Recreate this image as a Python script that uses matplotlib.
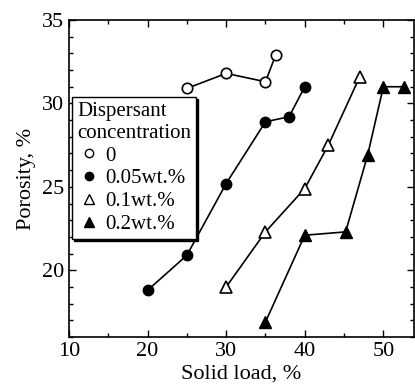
import matplotlib
matplotlib.use("Agg")
import matplotlib.pyplot as plt
from matplotlib.lines import Line2D
from matplotlib.ticker import MultipleLocator

plt.rcParams['font.family'] = ['Liberation Serif', 'DejaVu Serif']
plt.rcParams['mathtext.fontset'] = 'stix'

x0 = [25, 30, 35, 36.3]
y0 = [30.9, 31.8, 31.3, 32.9]
x005 = [20, 25, 30, 35, 38, 40]
y005 = [18.8, 20.9, 25.2, 28.9, 29.2, 31.0]
x01 = [30, 35, 40, 43, 47]
y01 = [19.0, 22.3, 24.9, 27.5, 31.6]
x02 = [35, 40, 45.2, 48, 50, 52.6]
y02 = [16.9, 22.1, 22.3, 26.9, 31.0, 31.0]
labels = ['0', '0.05wt.%', '0.1wt.%', '0.2wt.%']
legend_title = 'Dispersant\nconcentration'
xlabel = 'Solid load, %'
ylabel = 'Porosity, %'

fig = plt.figure(figsize=(4.15, 3.88), dpi=100)
ax = fig.add_axes([69/415, 1-337/388, 345/415, 317/388])

lw = 1.2
ms = 7.5
ax.plot(x0, y0, '-o', color='black', mfc='white', mec='black', mew=1.2, lw=lw, ms=ms)
ax.plot(x005, y005, '-o', color='black', mfc='black', lw=lw, ms=ms)
ax.plot(x01, y01, '-^', color='black', mfc='white', mec='black', mew=1.2, lw=lw, ms=ms+0.5)
ax.plot(x02, y02, '-^', color='black', mfc='black', lw=lw, ms=ms+0.5)

ax.set_xlim(10, 53.9)
ax.set_ylim(16, 35)
ax.xaxis.set_major_locator(MultipleLocator(10))
ax.xaxis.set_minor_locator(MultipleLocator(5))
ax.yaxis.set_major_locator(MultipleLocator(5))
ax.yaxis.set_minor_locator(MultipleLocator(1))
ax.tick_params(which='both', direction='in', top=True, right=True, labelsize=16, width=1)
ax.tick_params(which='major', length=5)
ax.tick_params(which='minor', length=3)
for s in ax.spines.values():
    s.set_linewidth(1.2)
ax.set_xlabel(xlabel, fontsize=16, labelpad=3)
ax.set_ylabel(ylabel, fontsize=16, labelpad=4)

handles = [
    Line2D([], [], ls='none', marker='o', mfc='white', mec='black', color='black', ms=6),
    Line2D([], [], ls='none', marker='o', mfc='black', mec='black', color='black', ms=6),
    Line2D([], [], ls='none', marker='^', mfc='white', mec='black', color='black', ms=6.5),
    Line2D([], [], ls='none', marker='^', mfc='black', mec='black', color='black', ms=6.5),
]
leg = ax.legend(handles, labels, title=legend_title, loc='upper left',
                bbox_to_anchor=(0.008, 0.757), fontsize=15, title_fontsize=15,
                frameon=True, fancybox=False,
                shadow={'color': 'black', 'alpha': 1, 'ox': 1.5, 'oy': -1.5},
                handlelength=0.6, handletextpad=0.5, borderpad=0.25,
                labelspacing=0.15, borderaxespad=0)
leg.get_frame().set_edgecolor('black')
leg.get_frame().set_linewidth(1.0)

fig.savefig('out.png', dpi=100)
